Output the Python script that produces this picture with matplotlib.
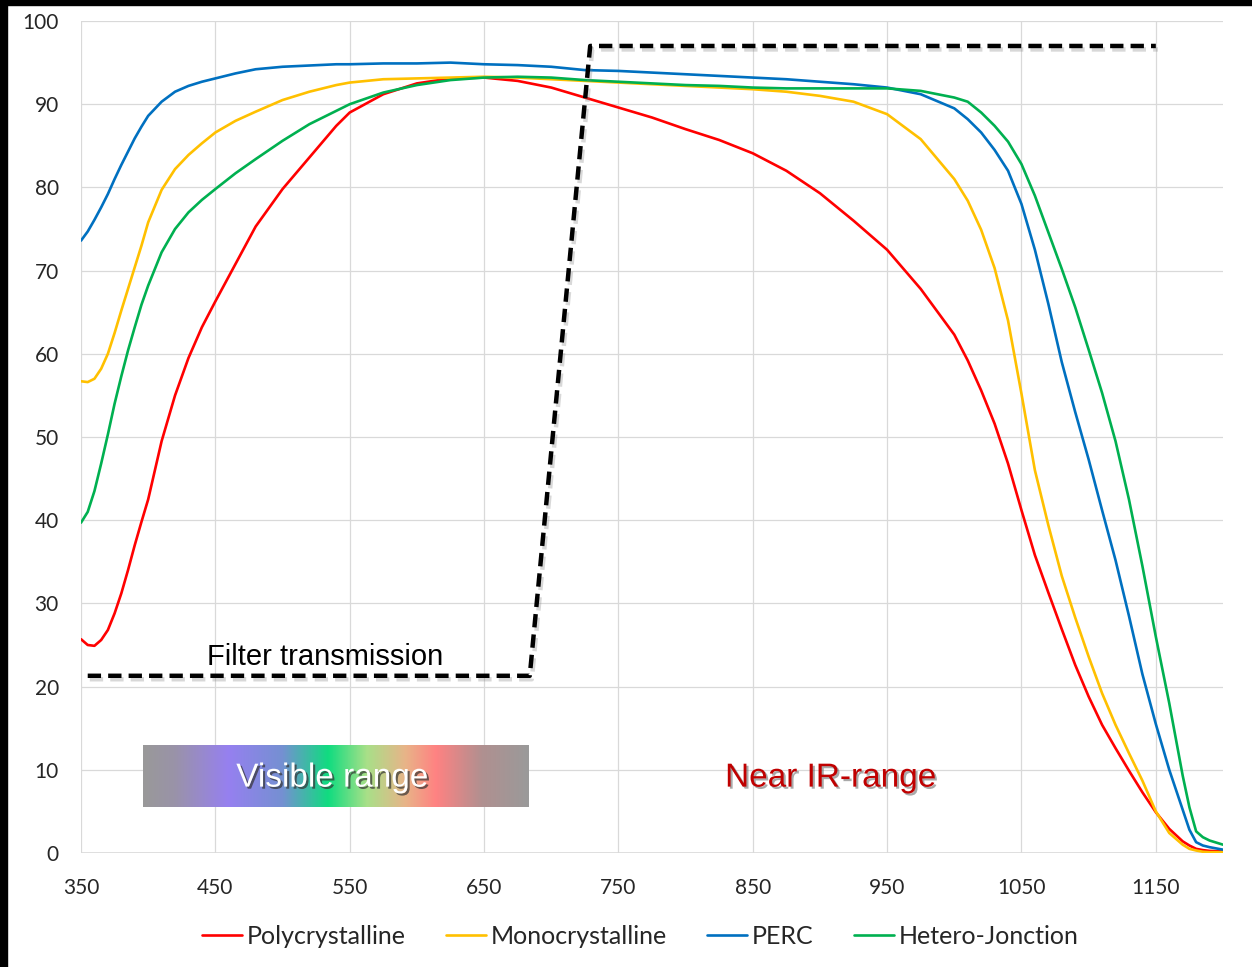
import numpy as np
import matplotlib
matplotlib.use("Agg")
import matplotlib.pyplot as plt
from matplotlib import patheffects as pe
from matplotlib.colors import LinearSegmentedColormap
from matplotlib.patches import Rectangle

# wavelength grid (nm)
wl = [350, 355, 360, 365, 370, 375, 380, 385, 390, 395, 400,
      410, 420, 430, 440, 450,
      465, 480, 500, 520, 540, 550,
      575, 600, 625, 650, 675, 700, 725, 750, 775, 800, 825, 850, 875, 900, 925, 950, 975, 1000,
      1010, 1020, 1030, 1040, 1050, 1060, 1070, 1080, 1090, 1100, 1110, 1120, 1130, 1140, 1150, 1160, 1170,
      1175, 1180, 1185, 1190, 1200]

poly = [25.7, 25.0, 24.9, 25.6, 26.8, 28.8, 31.2, 34.0, 37.0, 39.8, 42.5,
        49.5, 55.0, 59.5, 63.2, 66.3,
        70.8, 75.3, 79.8, 83.6, 87.4, 89.0,
        91.2, 92.5, 93.1, 93.2, 92.8, 92.0, 90.8, 89.6, 88.4, 87.0, 85.7, 84.1, 82.0, 79.3, 76.0, 72.5, 67.8, 62.3,
        59.2, 55.6, 51.6, 46.8, 41.2, 35.8, 31.3, 26.9, 22.6, 18.8, 15.4, 12.6, 9.9, 7.3, 4.9, 2.9, 1.4,
        0.9, 0.5, 0.35, 0.25, 0.2]

mono = [56.7, 56.6, 57.0, 58.2, 60.0, 62.5, 65.2, 67.8, 70.4, 73.0, 75.8,
        79.7, 82.2, 83.9, 85.3, 86.6,
        88.0, 89.1, 90.5, 91.5, 92.3, 92.6,
        93.0, 93.1, 93.2, 93.3, 93.2, 93.0, 92.8, 92.6, 92.4, 92.2, 92.0, 91.8, 91.5, 91.0, 90.3, 88.8, 85.8, 81.0,
        78.4, 74.9, 70.3, 64.0, 55.2, 46.0, 39.4, 33.3, 28.3, 23.6, 19.2, 15.4, 12.0, 8.7, 5.0, 2.4, 1.0,
        0.5, 0.3, 0.15, 0.1, 0.1]

perc = [73.6, 74.7, 76.1, 77.6, 79.2, 81.0, 82.7, 84.3, 85.9, 87.3, 88.6,
        90.3, 91.5, 92.2, 92.7, 93.1,
        93.7, 94.2, 94.5, 94.65, 94.8, 94.8,
        94.9, 94.9, 95.0, 94.8, 94.7, 94.5, 94.1, 94.0, 93.8, 93.6, 93.4, 93.2, 93.0, 92.7, 92.4, 92.0, 91.2, 89.5,
        88.2, 86.6, 84.5, 82.0, 78.0, 72.5, 66.0, 59.0, 53.0, 47.3, 41.2, 35.2, 28.5, 21.5, 15.5, 10.0, 5.2,
        2.8, 1.3, 0.9, 0.7, 0.4]

hjt = [39.7, 41.0, 43.5, 46.8, 50.3, 54.0, 57.3, 60.4, 63.2, 65.9, 68.2,
       72.2, 75.0, 77.0, 78.5, 79.8,
       81.7, 83.4, 85.6, 87.6, 89.2, 90.0,
       91.4, 92.3, 92.9, 93.2, 93.3, 93.2, 92.9, 92.7, 92.5, 92.3, 92.2, 92.0, 91.9, 91.9, 91.9, 91.9, 91.6, 90.8,
       90.3, 89.0, 87.4, 85.5, 82.8, 79.0, 74.6, 70.2, 65.6, 60.5, 55.3, 49.5, 42.5, 34.5, 26.0, 18.0, 9.3,
       5.5, 2.6, 1.9, 1.5, 1.0]

series_names = ["Polycrystalline", "Monocrystalline", "PERC", "Hetero-Jonction"]
series_colors = ["#ff0000", "#ffc000", "#0070c0", "#00b050"]

# filter transmission step
filter_x = [355, 684, 729, 1150]
filter_y = [21.3, 21.3, 97, 97]

xticks = [350, 450, 550, 650, 750, 850, 950, 1050, 1150]
yticks = [0, 10, 20, 30, 40, 50, 60, 70, 80, 90, 100]

W, H = 1252, 967
fig = plt.figure(figsize=(W / 100, H / 100), dpi=100)
ax = fig.add_axes([81 / W, 1 - 853 / H, (1223 - 81) / W, (853 - 21) / H])

grid_c = "#d9d9d9"
for xt in xticks:
    ax.axvline(xt, color=grid_c, lw=0.9, zorder=0)
for yt in yticks[1:]:
    ax.axhline(yt, color=grid_c, lw=0.9, zorder=0)
ax.axhline(0, color=grid_c, lw=1.2, zorder=0)

# visible range gradient box
spec = LinearSegmentedColormap.from_list("vis", [
    (0.00, "#999999"), (0.08, "#9a93a8"), (0.22, "#9680f0"), (0.36, "#7590d2"),
    (0.48, "#10dc80"), (0.58, "#a8e088"), (0.68, "#e8b488"), (0.76, "#ff8282"),
    (0.88, "#b09090"), (1.00, "#9a9a9a")])
grad = np.linspace(0, 1, 256).reshape(1, -1)
ax.imshow(grad, cmap=spec, aspect="auto", extent=[396, 683, 5.5, 12.9], zorder=1)

for y, name, c in zip([poly, mono, perc, hjt], series_names, series_colors):
    ax.plot(wl, y, color=c, lw=1.9, label=name, zorder=3, solid_capstyle="round")

ax.plot(filter_x, filter_y, color="black", lw=3.2, dashes=(3.0, 1.6), zorder=4,
        path_effects=[pe.SimpleLineShadow(offset=(1.5, -2.5), shadow_color="gray", alpha=0.3),
                      pe.Normal()])

ax.text(444, 23.5, "Filter transmission", fontsize=21, family="Liberation Sans",
        ha="left", va="center", color="black", zorder=5)
ax.text(537, 9.0, "Visible range", fontsize=24, family="Liberation Sans",
        ha="center", va="center", color="white", zorder=5,
        path_effects=[pe.SimplePatchShadow(offset=(1.5, -1.5), shadow_rgbFace="#333333", alpha=0.7),
                      pe.Normal()])
ax.text(908, 9.0, "Near IR-range", fontsize=24, family="Liberation Sans",
        ha="center", va="center", color="#c00000", zorder=5,
        path_effects=[pe.SimplePatchShadow(offset=(1.5, -1.5), shadow_rgbFace="#555555", alpha=0.5),
                      pe.Normal()])

ax.set_xlim(350, 1200)
ax.set_ylim(0, 100)
ax.set_xticks(xticks)
ax.set_yticks(yticks)
for s in ax.spines.values():
    s.set_visible(False)
ax.tick_params(length=0, labelsize=15, labelcolor="#262626")
ax.tick_params(axis="y", pad=16)
ax.tick_params(axis="x", pad=18)
for lab in ax.get_xticklabels() + ax.get_yticklabels():
    lab.set_family("Lato")

fig.legend(loc="center", bbox_to_anchor=(640 / W, 1 - 936 / H), ncol=4, frameon=False,
           prop={"family": "Lato", "size": 18}, handlelength=1.6, handletextpad=0.2,
           columnspacing=1.6, labelcolor="#262626")

# black frame along the left and top edges
fig.patches.append(Rectangle((0, 0), 7 / W, 1, transform=fig.transFigure, color="black", zorder=10))
fig.patches.append(Rectangle((0, 1 - 5 / H), 1, 5 / H, transform=fig.transFigure, color="black", zorder=10))

fig.savefig("out.png", dpi=100, facecolor="white")
